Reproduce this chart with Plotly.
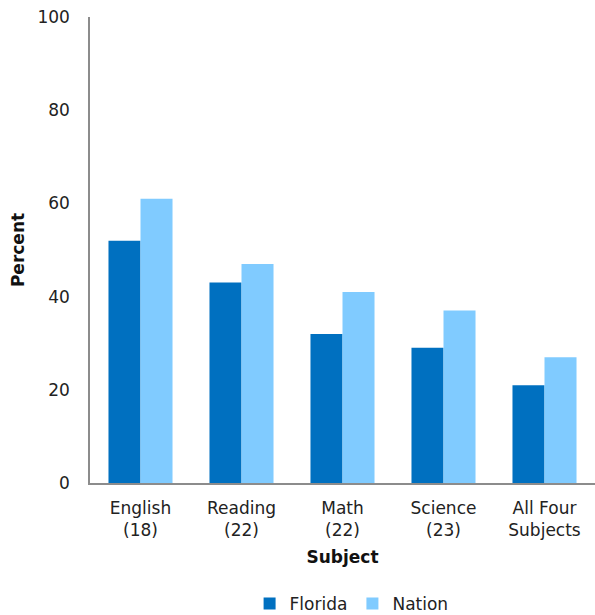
import plotly.graph_objects as go

categories = ["English<br>(18)", "Reading<br>(22)", "Math<br>(22)", "Science<br>(23)", "All Four<br>Subjects"]
florida = [52, 43, 32, 29, 21]
nation = [61, 47, 41, 37, 27]
y_ticks = [0, 20, 40, 60, 80, 100]

FONT = "DejaVu Sans"
TXT = "#222222"

fig = go.Figure()
fig.add_trace(go.Bar(name="Florida", x=categories, y=florida, marker=dict(color="#0070C0", line=dict(width=0))))
fig.add_trace(go.Bar(name="Nation", x=categories, y=nation, marker=dict(color="#80CBFF", line=dict(width=0))))

fig.update_layout(
    width=595, height=615,
    margin=dict(l=90, r=0, t=17, b=132),
    paper_bgcolor="white", plot_bgcolor="white",
    barmode="group", bargap=0.366, bargroupgap=0,
    font=dict(family=FONT, size=17, color=TXT),
    showlegend=True,
    legend=dict(orientation="h", x=0.518, xanchor="center", xref="paper",
                y=0.018, yanchor="middle", yref="container",
                font=dict(family=FONT, size=17, color=TXT), traceorder="normal",
                itemwidth=30),
    xaxis=dict(showline=True, linecolor="#8c8c8c", linewidth=1.5, ticks="outside", ticklen=9,
               tickcolor="rgba(0,0,0,0)",
               tickfont=dict(family=FONT, size=17, color=TXT),
               title=dict(text="<b>Subject</b>", font=dict(family=FONT, size=17, color="#111111"), standoff=12),
               automargin=False),
    yaxis=dict(range=[0, 100], tickvals=y_ticks, showline=True, linecolor="#8c8c8c", linewidth=1.5,
               showgrid=False, zeroline=False, ticks="outside", ticklen=15, tickcolor="rgba(0,0,0,0)",
               tickfont=dict(family=FONT, size=17, color=TXT),
               title=dict(text="<b>Percent</b>", font=dict(family=FONT, size=17, color="#111111"), standoff=8),
               automargin=False),
)

fig.write_html(
    "out.html",
    config={"displayModeBar": False},
    post_script=(
        "document.documentElement.style.margin='0';document.documentElement.style.overflow='hidden';"
        "document.body.style.margin='0';document.body.style.padding='0';document.body.style.overflow='hidden';"
    ),
)
